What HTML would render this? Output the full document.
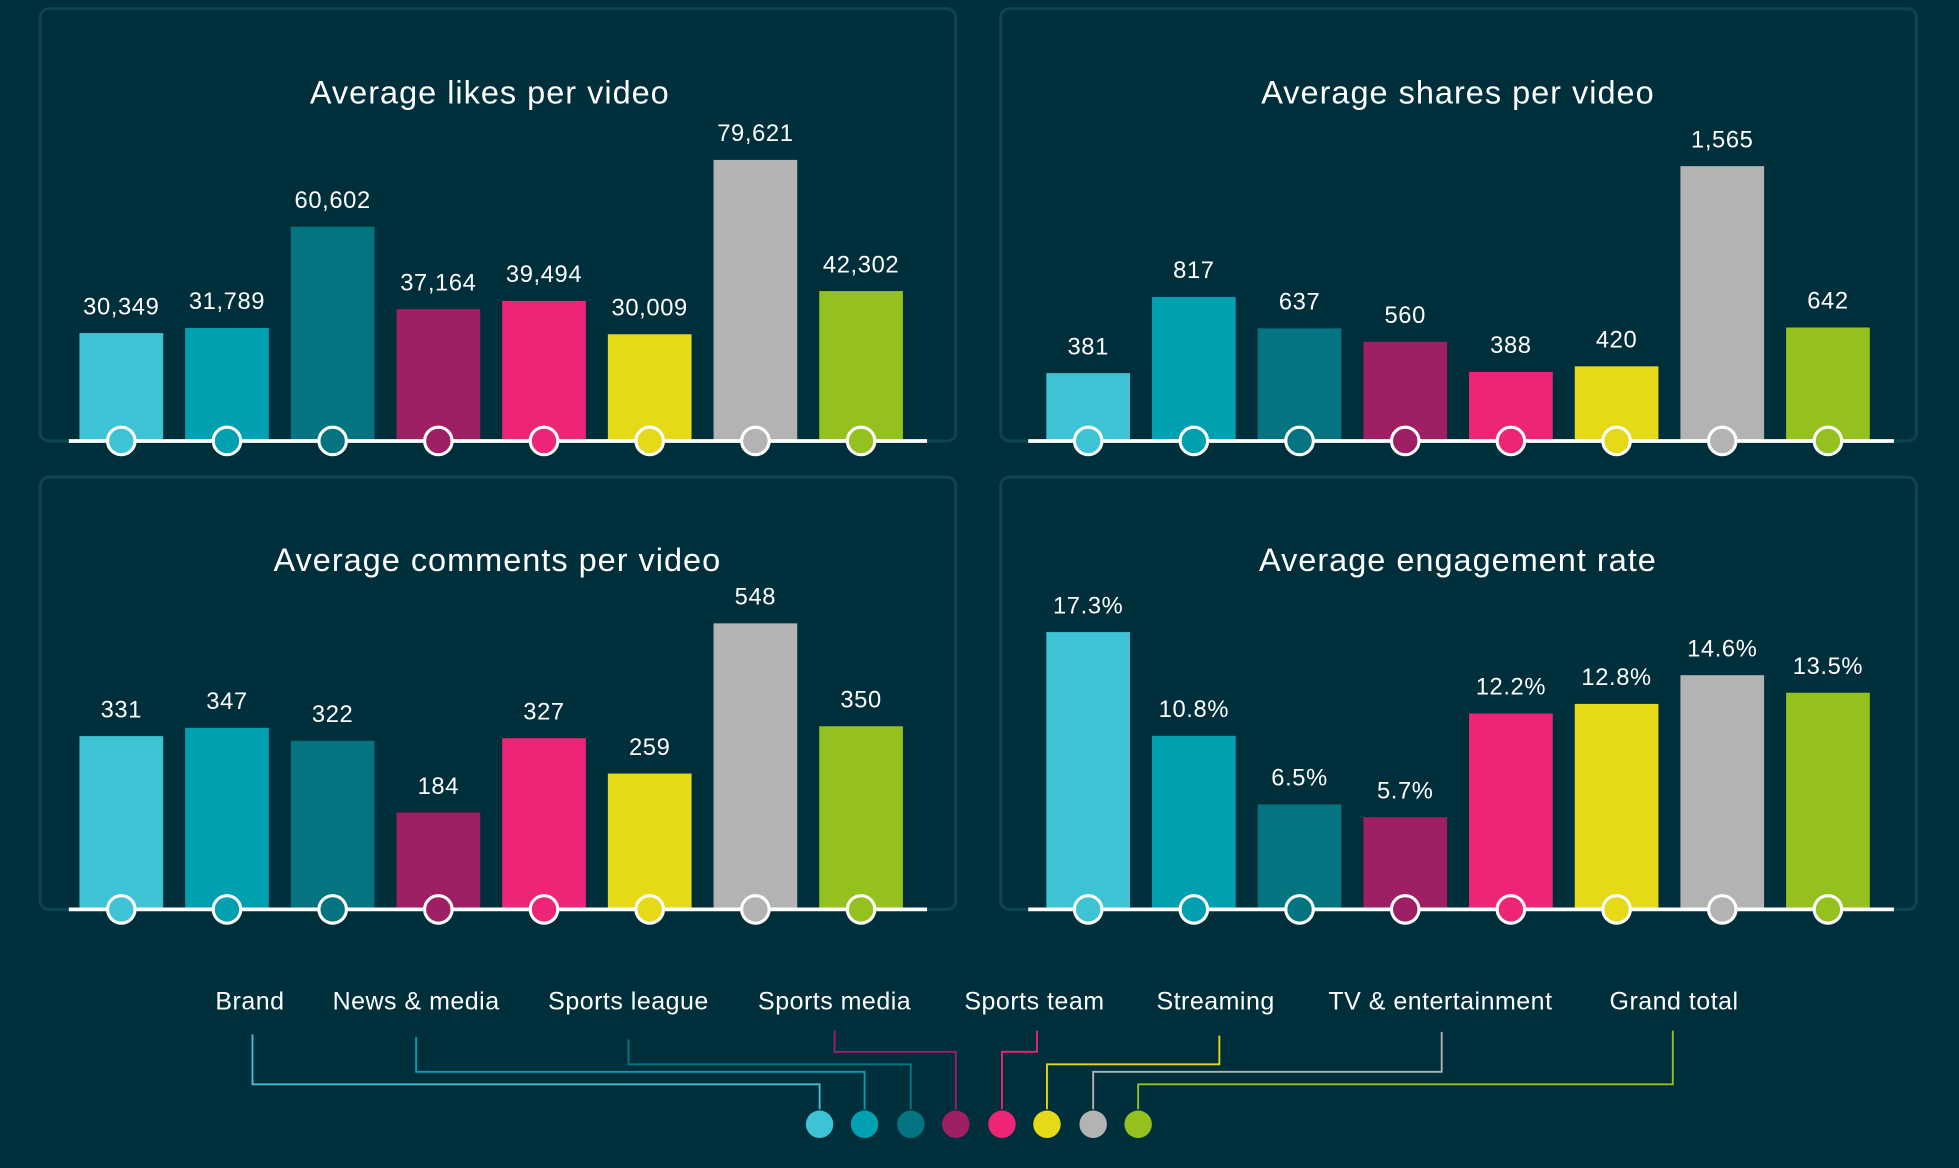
<!DOCTYPE html>
<html><head><meta charset="utf-8"><style>
html,body{margin:0;padding:0;background:#002f3c;}
svg{display:block;}
text{font-family:"Liberation Sans",sans-serif;fill:#fff;}
</style></head><body>
<svg width="1959" height="1168" viewBox="0 0 1568 935" xmlns="http://www.w3.org/2000/svg">
<rect width="1568" height="935" fill="#002f3c"/>
<g fill="none" stroke="#0a4550" stroke-width="2.5">
<rect x="32" y="7" width="733" height="346" rx="7"/>
<rect x="801" y="7" width="733" height="346" rx="7"/>
<rect x="32" y="382" width="733" height="346" rx="7"/>
<rect x="801" y="382" width="733" height="346" rx="7"/>
</g>
<g font-size="26" text-anchor="middle" letter-spacing="0.8">
<text x="392" y="83">Average likes per video</text>
<text x="1167" y="83">Average shares per video</text>
<text x="398" y="457">Average comments per video</text>
<text x="1167" y="457">Average engagement rate</text>
</g>
<g id="charts"></g>
<g font-size="20" text-anchor="middle" letter-spacing="0.4">
<text x="200" y="808">Brand</text>
<text x="333" y="808">News &amp; media</text>
<text x="503" y="808">Sports league</text>
<text x="668" y="808">Sports media</text>
<text x="828" y="808">Sports team</text>
<text x="973" y="808">Streaming</text>
<text x="1153" y="808">TV &amp; entertainment</text>
<text x="1340" y="808">Grand total</text>
</g>
<g fill="none" stroke-width="1.5">
<polyline stroke="#3ec3d5" points="202,828 202,868 656,868 656,888"/>
<polyline stroke="#00a0b0" points="333,830 333,858 692,858 692,888"/>
<polyline stroke="#037480" points="503,832 503,852 729,852 729,888"/>
<polyline stroke="#9e1f63" points="668,825 668,842 765,842 765,888"/>
<polyline stroke="#ee2477" points="830,825 830,842 802,842 802,888"/>
<polyline stroke="#e5d918" points="976,829 976,852 838,852 838,888"/>
<polyline stroke="#b3b3b3" points="1154,826 1154,858 875,858 875,888"/>
<polyline stroke="#95c11f" points="1339,825 1339,868 911,868 911,888"/>
</g>
<g>
<circle cx="656" cy="900" r="11" fill="#3ec3d5"/>
<circle cx="692" cy="900" r="11" fill="#00a0b0"/>
<circle cx="729" cy="900" r="11" fill="#037480"/>
<circle cx="765" cy="900" r="11" fill="#9e1f63"/>
<circle cx="802" cy="900" r="11" fill="#ee2477"/>
<circle cx="838" cy="900" r="11" fill="#e5d918"/>
<circle cx="875" cy="900" r="11" fill="#b3b3b3"/>
<circle cx="911" cy="900" r="11" fill="#95c11f"/>
</g>
</svg>
<script>
const cols=["#3ec3d5","#00a0b0","#037480","#9e1f63","#ee2477","#e5d918","#b3b3b3","#95c11f"];
const charts=[
 {x0:97,lx:55,base:352,s:224/79621,v:[30349,31789,60602,37164,39494,30009,79621,42302],f:v=>v.toLocaleString('en-US')},
 {x0:871,lx:823,base:352,s:219/1565,v:[381,817,637,560,388,420,1565,642],f:v=>v.toLocaleString('en-US')},
 {x0:97,lx:55,base:727,s:228/548,v:[331,347,322,184,327,259,548,350],f:v=>String(v)},
 {x0:871,lx:823,base:727,s:221/17.3,v:[17.3,10.8,6.5,5.7,12.2,12.8,14.6,13.5],f:v=>v.toFixed(1)+'%'}
];
const ns="http://www.w3.org/2000/svg";const g=document.getElementById('charts');
function el(t,a,txt){const e=document.createElementNS(ns,t);for(const k in a)e.setAttribute(k,a[k]);if(txt)e.textContent=txt;g.appendChild(e);return e;}
charts.forEach(c=>{
 c.v.forEach((v,i)=>{const cx=c.x0+i*84.6;const h=v*c.s;
  el('rect',{x:cx-33.5,y:c.base-h,width:67,height:h,fill:cols[i]});
  el('text',{x:cx,y:c.base-h-15,'font-size':19,'text-anchor':'middle','letter-spacing':0.5},c.f(v));});
 el('line',{x1:c.lx,x2:c.x0+645,y1:c.base+1,y2:c.base+1,stroke:'#fff','stroke-width':3});
 c.v.forEach((v,i)=>{const cx=c.x0+i*84.6;el('circle',{cx:cx,cy:c.base+1,r:11,fill:cols[i],stroke:'#fff','stroke-width':2.5});});
});
</script>
</body></html>
